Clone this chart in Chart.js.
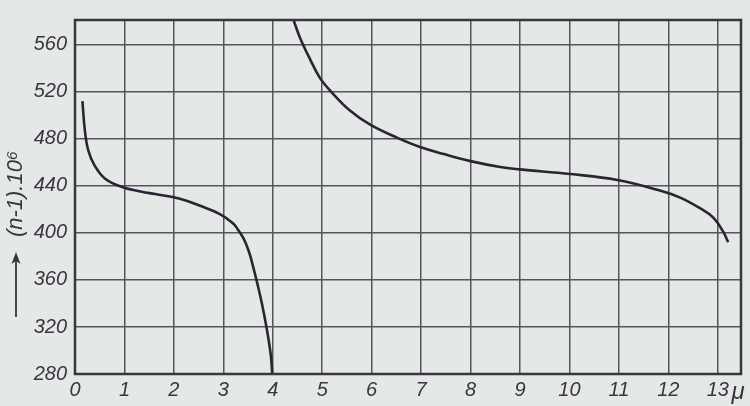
<!DOCTYPE html>
<html>
<head>
<meta charset="utf-8">
<script src="https://cdn.jsdelivr.net/npm/chart.js@4/dist/chart.umd.min.js"></script>
<style>
html,body{margin:0;padding:0;background:#e4e8e6;}
#wrap{width:750px;height:406px;}
</style>
</head>
<body>
<div id="wrap"><canvas id="c" width="750" height="406"></canvas></div>
<script>
const curve1X = [0.15, 0.20, 0.27, 0.40, 0.61, 0.95, 1.35, 1.62, 2.12, 2.53, 2.93, 3.20, 3.30, 3.40, 3.47, 3.54, 3.61, 3.67, 3.78, 3.88, 3.96, 3.99];
const curve1Y = [512, 487, 470, 457, 446, 439, 435, 433, 429, 423, 416, 408, 402.5, 396, 389.5, 381, 370, 360, 340, 318, 296, 280];
const curve2X = [4.42, 4.55, 4.75, 4.95, 5.16, 5.56, 5.97, 6.51, 6.98, 7.46, 8.0, 8.6, 9.0, 10.02, 10.97, 11.83, 12.24, 12.64, 12.91, 13.11, 13.21];
const curve2Y = [581, 566, 548, 532, 521, 504, 492, 481, 473, 467, 461, 456, 454, 450, 445, 436, 430, 421, 413, 401, 392];
const xTicks = [0,1,2,3,4,5,6,7,8,9,10,11,12,13];
const yTicks = [280,320,360,400,440,480,520,560];
const yTitle = "(n-1).10\u2076";
const xUnit = "\u03BC";

const ink = '#2c2433';
const gridCol = '#55545c';
const tickFont = {family:'"Liberation Sans", Arial, sans-serif', size:20, style:'italic'};

const frame = {
  id:'frame',
  afterDraw(chart){
    const {ctx, chartArea:a} = chart;
    ctx.save();
    ctx.strokeStyle = '#3a3540';
    ctx.lineWidth = 2.5;
    ctx.strokeRect(a.left, a.top, a.right-a.left, a.bottom-a.top);
    ctx.fillStyle = '#3a3540';
    ctx.strokeStyle = '#3a3540';
    ctx.translate(16, 0);
    ctx.rotate(-Math.PI/2);
    ctx.font = 'italic 22px "Liberation Sans", Arial, sans-serif';
    ctx.textAlign = 'center';
    ctx.textBaseline = 'middle';
    ctx.fillText(yTitle, -194, 0);
    ctx.lineWidth = 1.8;
    ctx.beginPath();
    ctx.moveTo(-317, 0);
    ctx.lineTo(-258, 0);
    ctx.stroke();
    ctx.beginPath();
    ctx.moveTo(-252, 0);
    ctx.lineTo(-264, -4.5);
    ctx.lineTo(-261, 0);
    ctx.lineTo(-264, 4.5);
    ctx.closePath();
    ctx.fill();
    ctx.restore();
    ctx.save();
    ctx.fillStyle = '#3a3540';
    ctx.font = 'italic 24px "Liberation Sans", Arial, sans-serif';
    ctx.textAlign = 'center';
    ctx.textBaseline = 'middle';
    ctx.fillText(xUnit, 738, 392);
    ctx.restore();
  }
};

new Chart(document.getElementById('c'), {
  type:'line',
  data:{
    datasets:[
      {data: curve1X.map((x,i)=>({x, y:curve1Y[i]})), borderColor:ink, borderWidth:2.6, pointRadius:0, tension:0.4, fill:false},
      {data: curve2X.map((x,i)=>({x, y:curve2Y[i]})), borderColor:ink, borderWidth:2.6, pointRadius:0, tension:0.4, fill:false}
    ]
  },
  options:{
    responsive:false,
    animation:false,
    layout:{padding:{top:5, right:9, left:0, bottom:0}},
    plugins:{legend:{display:false}, tooltip:{enabled:false}},
    scales:{
      x:{
        type:'linear', min:0, max:13.47,
        afterBuildTicks(axis){ axis.ticks = xTicks.map(v=>({value:v})); },
        afterFit(axis){ axis.height = 32; },
        grid:{color:gridCol, lineWidth:1.5, drawTicks:false},
        border:{display:false},
        ticks:{color:'#3a3540', font:tickFont, padding:4, maxRotation:0, autoSkip:false, callback:v=>String(v)}
      },
      y:{
        min:280, max:581,
        afterBuildTicks(axis){ axis.ticks = yTicks.map(v=>({value:v})); },
        afterFit(axis){ axis.width = 75; },
        grid:{color:gridCol, lineWidth:1.5, drawTicks:false},
        border:{display:false},
        ticks:{color:'#3a3540', font:tickFont, padding:8, autoSkip:false, callback:v=>String(v)}
      }
    }
  },
  plugins:[frame]
});
</script>
</body>
</html>
